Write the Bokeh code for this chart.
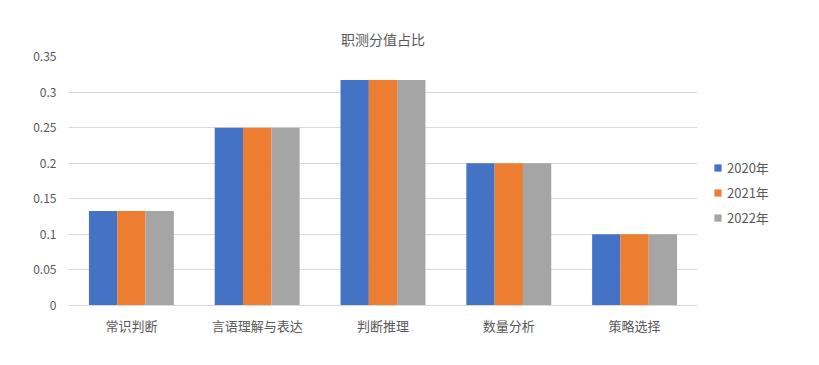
from bokeh.plotting import figure
from bokeh.models import ColumnDataSource, FactorRange, Range1d, FixedTicker, Legend, LegendItem
from bokeh.transform import dodge
from bokeh.embed import file_html
from bokeh.resources import INLINE

categories = ["常识判断", "言语理解与表达", "判断推理", "数量分析", "策略选择"]
v2020 = [0.133, 0.25, 0.317, 0.2, 0.1]
v2021 = [0.133, 0.25, 0.317, 0.2, 0.1]
v2022 = [0.133, 0.25, 0.317, 0.2, 0.1]
series_names = ["2020年", "2021年", "2022年"]
colors = ["#4472C4", "#ED7D31", "#A5A5A5"]
yticks = [0, 0.05, 0.1, 0.15, 0.2, 0.25, 0.3, 0.35]
ytick_labels = ["0", "0.05", "0.1", "0.15", "0.2", "0.25", "0.3", "0.35"]

src = ColumnDataSource(dict(cat=categories, a=v2020, b=v2021, c=v2022))

FONT = "Noto Sans CJK SC"
GREY = "#595959"

p = figure(x_range=FactorRange(*categories, range_padding=0), y_range=Range1d(0, 0.35),
           output_backend="svg", toolbar_location=None,
           frame_width=629, frame_height=249,
           min_border_left=68, min_border_top=56, min_border_bottom=44, min_border_right=10)

bw = 0.225
renderers = []
for key, off, col in zip(["a", "b", "c"], [-bw, 0, bw], colors):
    r = p.vbar(x=dodge("cat", off, range=p.x_range), top=key, width=bw, source=src,
               fill_color=col, line_color=None)
    renderers.append(r)

p.title.text = "职测分值占比"
p.title.align = "center"
p.title.text_font = FONT
p.title.text_font_size = "14px"
p.title.text_font_style = "normal"
p.title.text_color = GREY
p.title.offset = 0
p.title.standoff = 16

p.yaxis.ticker = FixedTicker(ticks=yticks)
p.yaxis.major_label_overrides = {t: l for t, l in zip(yticks, ytick_labels)}
p.yaxis.axis_line_color = None
p.yaxis.major_tick_line_color = None
p.yaxis.minor_tick_line_color = None
p.yaxis.major_label_text_font = FONT
p.yaxis.major_label_text_font_size = "12px"
p.yaxis.major_label_text_color = GREY
p.yaxis.major_label_standoff = 6

p.xaxis.axis_line_color = "#D9D9D9"
p.xaxis.major_tick_line_color = None
p.xaxis.minor_tick_line_color = None
p.xaxis.major_label_text_font = FONT
p.xaxis.major_label_text_font_size = "13px"
p.xaxis.major_label_text_color = GREY
p.xaxis.major_label_standoff = 4

p.xgrid.grid_line_color = None
p.ygrid.grid_line_color = "#D9D9D9"
p.outline_line_color = None

legend = Legend(items=[LegendItem(label=n, renderers=[r]) for n, r in zip(series_names, renderers)],
                location=(16, 78), orientation="vertical",
                label_text_font=FONT, label_text_font_size="13px", label_text_color=GREY,
                glyph_width=9, glyph_height=9, label_standoff=5, spacing=6,
                border_line_color=None, background_fill_alpha=0, padding=0, margin=0)
p.add_layout(legend, "right")

open("out.html", "w").write(file_html(p, INLINE))
